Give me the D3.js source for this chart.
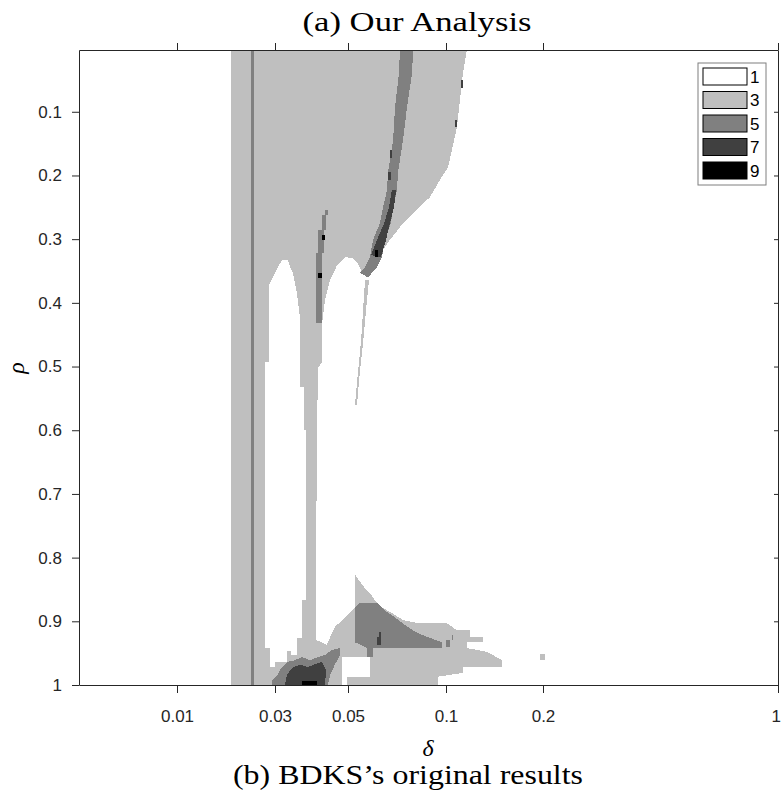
<!DOCTYPE html>
<html><head><meta charset="utf-8">
<script src="https://cdn.jsdelivr.net/npm/d3@7"></script>
<style>body{margin:0;background:#fff} svg{display:block}</style>
</head><body><svg id="c" width="781" height="792"></svg>
<script>
// ---------------- DATA ----------------
const deltaTicks = [0.01, 0.03, 0.05, 0.1, 0.2, 1];
const deltaTickLabels = ["0.01", "0.03", "0.05", "0.1", "0.2", "1"];
const rhoTicks = [0.1, 0.2, 0.3, 0.4, 0.5, 0.6, 0.7, 0.8, 0.9, 1];
const rhoTickLabels = ["0.1", "0.2", "0.3", "0.4", "0.5", "0.6", "0.7", "0.8", "0.9", "1"];
const levelValues = [1, 3, 5, 7, 9];
const levelColors = ["#ffffff", "#bfbfbf", "#808080", "#404040", "#000000"];

const box = (d0, r0, d1, r1) => [[d0, r0], [d1, r0], [d1, r1], [d0, r1]];

// level 3 regions, [delta, rho]
const level3Regions = [
  [[0.0210,0.003],[0.1216,0.003],[0.1175,0.039],[0.1113,0.124],[0.1021,0.187],[0.0969,0.207],[0.0918,0.234],
   [0.0852,0.254],[0.0781,0.275],[0.0714,0.301],[0.0653,0.328],[0.0612,0.341],[0.0571,0.352],[0.0546,0.336],
   [0.0526,0.330],[0.0492,0.328],[0.0470,0.341],[0.0451,0.364],[0.0437,0.396],[0.0429,0.432],[0.0429,0.493],
   [0.0418,0.502],[0.0415,0.600],[0.0412,0.867],[0.0412,0.929],[0.0442,0.937],[0.0451,0.925],[0.0464,0.909],
   [0.0484,0.898],[0.0536,0.878],[0.0536,0.827],[0.0561,0.838],[0.0587,0.848],[0.0612,0.856],[0.0638,0.867],
   [0.0673,0.878],[0.0724,0.887],[0.0781,0.898],[0.0857,0.903],[0.1010,0.903],[0.1113,0.914],[0.1247,0.914],
   [0.1247,0.925],[0.1381,0.925],[0.1381,0.933],[0.1216,0.933],[0.1216,0.942],[0.1423,0.948],[0.1577,0.961],
   [0.1577,0.972],[0.1175,0.972],[0.1175,0.981],[0.0959,0.987],[0.0959,1.0],[0.0210,1.0]],
  [[0.0607,0.364],[0.0592,0.411],[0.0577,0.462],[0.0566,0.493],[0.0556,0.524],[0.0546,0.560],
   [0.0536,0.560],[0.0546,0.524],[0.0556,0.493],[0.0566,0.462],[0.0577,0.411],[0.0587,0.364]],
  box(0.1969, 0.951, 0.2068, 0.961)
];

// level 1 (white) regions inside level 3
const level1Regions = [
  [[0.0288,0.372],[0.0300,0.353],[0.0308,0.344],[0.0319,0.333],[0.0336,0.333],[0.0341,0.344],[0.0349,0.353],
   [0.0360,0.385],[0.0368,0.422],[0.0368,0.532],[0.0379,0.532],[0.0379,0.600],[0.0385,0.600],[0.0385,0.867],
   [0.0374,0.867],[0.0374,0.926],[0.0360,0.926],[0.0360,0.953],[0.0344,0.953],[0.0344,0.947],[0.0333,0.947],
   [0.0333,0.964],[0.0300,0.964],[0.0300,0.972],[0.0290,0.972],[0.0290,0.942],[0.0280,0.942],[0.0280,0.493],
   [0.0288,0.493]],
  [[0.0484,0.956],[0.0612,0.956],[0.0612,0.987],[0.0497,0.987],[0.0497,1.0],[0.0484,1.0]]
];

// level 5 regions
const level5Regions = [
  box(0.0251, 0.003, 0.0257, 1.0),
  [[0.0765,0.003],[0.0760,0.039],[0.0740,0.093],[0.0730,0.144],[0.0704,0.196],[0.0699,0.223],[0.0679,0.250],
   [0.0663,0.275],[0.0628,0.301],[0.0612,0.328],[0.0587,0.344],[0.0561,0.353],[0.0602,0.360],[0.0648,0.344],
   [0.0673,0.328],[0.0689,0.301],[0.0719,0.275],[0.0730,0.250],[0.0750,0.223],[0.0755,0.196],[0.0781,0.144],
   [0.0801,0.093],[0.0827,0.039],[0.0832,0.003]],
  [[0.0437,0.254],[0.0445,0.254],[0.0445,0.262],[0.0440,0.262],[0.0440,0.286],[0.0434,0.286],[0.0434,0.322],
   [0.0429,0.322],[0.0429,0.432],[0.0412,0.432],[0.0412,0.322],[0.0418,0.322],[0.0418,0.286],[0.0429,0.286],
   [0.0429,0.262],[0.0437,0.262]],
  [[0.0587,0.871],[0.0648,0.871],[0.0684,0.882],[0.0735,0.893],[0.0791,0.906],[0.0852,0.918],[0.0918,0.926],
   [0.0980,0.933],[0.0980,0.942],[0.0628,0.942],[0.0628,0.956],[0.0597,0.956],[0.0597,0.942],[0.0536,0.933],
   [0.0536,0.878],[0.0561,0.871]],
  box(0.1000, 0.929, 0.1041, 0.940),
  box(0.1062, 0.922, 0.1072, 0.929),
  [[0.0294,1.0],[0.0294,0.992],[0.0305,0.986],[0.0314,0.976],[0.0333,0.964],[0.0355,0.961],[0.0374,0.956],
   [0.0396,0.961],[0.0418,0.956],[0.0437,0.953],[0.0456,0.945],[0.0478,0.942],[0.0478,0.953],[0.0464,0.968],
   [0.0451,0.984],[0.0445,1.0]]
];

// level 7 regions
const level7Regions = [
  [[0.0724,0.223],[0.0709,0.250],[0.0684,0.275],[0.0648,0.301],[0.0617,0.325],[0.0668,0.328],[0.0694,0.301],
   [0.0714,0.275],[0.0735,0.250],[0.0745,0.223]],
  box(0.0704, 0.195, 0.0719, 0.207),
  box(0.0714, 0.160, 0.0724, 0.173),
  box(0.1155, 0.050, 0.1175, 0.063),
  box(0.1093, 0.113, 0.1113, 0.124),
  box(0.0648, 0.925, 0.0668, 0.937),
  box(0.0658, 0.917, 0.0668, 0.925),
  [[0.0327,1.0],[0.0333,0.984],[0.0347,0.973],[0.0368,0.968],[0.0390,0.972],[0.0410,0.967],[0.0429,0.964],
   [0.0440,0.976],[0.0437,1.0]]
];

// level 9 regions
const level9Regions = [
  box(0.0638, 0.317, 0.0653, 0.328),
  box(0.0429, 0.294, 0.0437, 0.301),
  box(0.0418, 0.353, 0.0429, 0.361),
  box(0.0374, 0.994, 0.0415, 1.0)
];

// ---------------- LAYOUT ----------------
const L = 79, R = 778, T = 50, B = 685;
const svg = d3.select("#c");
const x = d3.scaleLinear()
  .domain([0.005, 0.01, 0.03, 0.05, 0.1, 0.2, 1])
  .range([L, 177, 275, 348, 446, 543, R]);
const y = d3.scaleLinear().domain([0.003, 1]).range([T, B]);

svg.append("defs").append("clipPath").attr("id", "clip")
  .append("rect").attr("x", L).attr("y", T).attr("width", R - L).attr("height", B - T);

const plot = svg.append("g").attr("clip-path", "url(#clip)");
plot.append("rect").attr("x", L).attr("y", T).attr("width", R - L).attr("height", B - T).attr("fill", levelColors[0]);

const line = d3.line().x(d => x(d[0])).y(d => y(d[1]));
const layers = [
  [level3Regions, levelColors[1]],
  [level1Regions, levelColors[0]],
  [level5Regions, levelColors[2]],
  [level7Regions, levelColors[3]],
  [level9Regions, levelColors[4]]
];
layers.forEach(([regions, color]) => {
  plot.append("g").selectAll("path").data(regions).join("path")
    .attr("d", d => line(d) + "Z")
    .attr("fill", color)
    .attr("stroke", "none")
    .attr("shape-rendering", "crispEdges");
});

// ---------------- AXES ----------------
const axisColor = "#262626";
function styleAxis(g) {
  g.selectAll(".domain").attr("stroke", axisColor).attr("stroke-width", 1);
  g.selectAll(".tick line").attr("stroke", axisColor).attr("stroke-width", 1);
  g.selectAll("text").attr("font-family", "'Liberation Sans', Arial, sans-serif")
    .attr("font-size", 17).attr("fill", axisColor);
}
const bottomAxis = svg.append("g").attr("transform", `translate(0,${B})`)
  .call(d3.axisBottom(x).tickValues(deltaTicks).tickFormat((d, i) => deltaTickLabels[i])
    .tickSize(8).tickSizeOuter(0).tickPadding(17))
  .call(styleAxis);
bottomAxis.selectAll(".tick text").filter(d => d === 1).attr("text-anchor", "end").attr("dx", "0.15em");
svg.append("g").attr("transform", `translate(0,${T})`)
  .call(d3.axisTop(x).tickValues(deltaTicks).tickFormat("").tickSize(7).tickSizeOuter(0))
  .call(styleAxis);
svg.append("g").attr("transform", `translate(${L},0)`)
  .call(d3.axisLeft(y).tickValues(rhoTicks).tickFormat((d, i) => rhoTickLabels[i])
    .tickSize(7).tickSizeOuter(0).tickPadding(10))
  .call(styleAxis);
svg.append("g").attr("transform", `translate(${R},0)`)
  .call(d3.axisLeft(y).tickValues(rhoTicks).tickFormat("").tickSize(4).tickSizeOuter(0))
  .call(styleAxis);

// ---------------- LABELS ----------------
const serif = "'Liberation Serif', 'Times New Roman', serif";
svg.append("text").attr("x", 417).attr("y", 31).attr("text-anchor", "middle")
  .attr("font-family", serif).attr("font-size", 27).attr("fill", "#000")
  .attr("textLength", 229).attr("lengthAdjust", "spacingAndGlyphs")
  .text("(a) Our Analysis");
svg.append("text").attr("x", 428).attr("y", 756).attr("text-anchor", "middle")
  .attr("font-family", serif).attr("font-style", "italic").attr("font-size", 24).attr("fill", "#000")
  .text("δ");
svg.append("text").attr("transform", "translate(24,368) rotate(-90)").attr("text-anchor", "middle")
  .attr("font-family", serif).attr("font-style", "italic").attr("font-size", 24).attr("fill", "#000")
  .text("ρ");
svg.append("text").attr("x", 408).attr("y", 784).attr("text-anchor", "middle")
  .attr("font-family", serif).attr("font-size", 27).attr("fill", "#000")
  .attr("textLength", 350).attr("lengthAdjust", "spacingAndGlyphs")
  .text("(b) BDKS’s original results");

// ---------------- LEGEND ----------------
const lg = svg.append("g").attr("transform", "translate(698,63)");
lg.append("rect").attr("width", 68).attr("height", 122).attr("fill", "#fff")
  .attr("stroke", "#7f7f7f").attr("stroke-width", 1);
const rows = lg.selectAll("g.row").data(levelValues).join("g").attr("class", "row")
  .attr("transform", (d, i) => `translate(5,${5 + i * 23.5})`);
rows.append("rect").attr("width", 44).attr("height", 17)
  .attr("fill", (d, i) => levelColors[i]).attr("stroke", "#000").attr("stroke-width", 1);
rows.append("text").attr("x", 47).attr("y", 9).attr("dy", "0.35em")
  .attr("font-family", "'Liberation Sans', Arial, sans-serif").attr("font-size", 17).attr("fill", "#000")
  .text(d => d);
</script></body></html>
